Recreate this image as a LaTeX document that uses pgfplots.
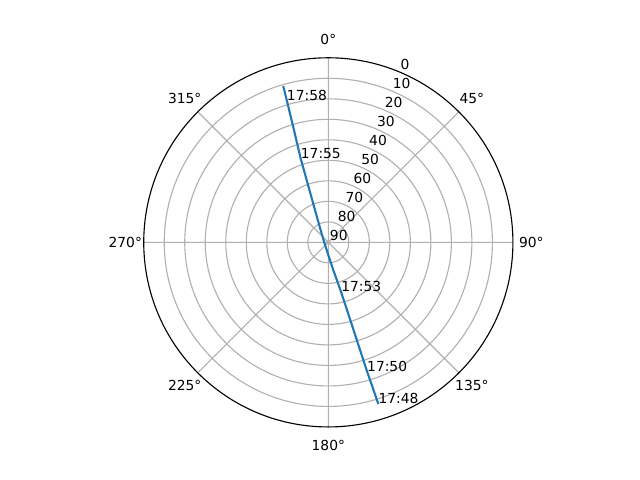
\documentclass[border=0pt]{standalone}
\usepackage{fontspec}
\setmainfont{DejaVu Sans}
\usepackage{pgfplots}
\usepackage{pgfplotstable}
\pgfplotsset{compat=1.18}
\usepgfplotslibrary{polar}
\definecolor{tabblue}{HTML}{1F77B4}
\definecolor{gridgray}{HTML}{B0B0B0}

% satellite track: azimuth (deg, clockwise from north), elevation (deg)
\pgfplotstableread{
az     el
162.8  7.5
163.3  24.5
164.2  50.6
165.6  65.1
169.8  76.3
180.0  83.8
270.0  88.0
329.9  82.0
337.6  73.0
341.75 46.9
343.0  32.7
343.7  17.7
343.9  10.7
}\track

\begin{document}
\fontsize{10}{12}\selectfont
\begin{tikzpicture}
\path[use as bounding box] (-236.4bp,-171.1bp) rectangle (224.4bp,174.5bp);
\begin{polaraxis}[
  at={(0,0)}, anchor=center,
  width=265.8bp, height=265.8bp, scale only axis,
  ymin=0, ymax=90,
  xtick={0,45,...,315}, xticklabels={},
  ytick={10,20,...,80}, yticklabels={},
  grid=major,
  major grid style={gridgray, line width=0.8bp},
  x axis line style={black, line width=0.8bp},
  y axis line style={draw=none},
  major tick length=0pt,
  clip=false,
]
\addplot[tabblue, line width=1.5bp, no markers]
  table[x expr={90-\thisrow{az}}, y expr={90-\thisrow{el}}] {\track};

% azimuth labels
\node[anchor=center] at (axis cs:90,99) {0°};
\node[anchor=center] at (axis cs:45,99) {45°};
\node[anchor=center] at (axis cs:0,99) {90°};
\node[anchor=center] at (axis cs:-45,99) {135°};
\node[anchor=center] at (axis cs:-90,99) {180°};
\node[anchor=center] at (axis cs:-135,99) {225°};
\node[anchor=center] at (axis cs:180,99) {270°};
\node[anchor=center] at (axis cs:135,99) {315°};

% elevation labels
\node[anchor=south west, inner sep=1bp] at (axis cs:67.5,90) {0};
\node[anchor=south west, inner sep=1bp] at (axis cs:67.5,80) {10};
\node[anchor=south west, inner sep=1bp] at (axis cs:67.5,70) {20};
\node[anchor=south west, inner sep=1bp] at (axis cs:67.5,60) {30};
\node[anchor=south west, inner sep=1bp] at (axis cs:67.5,50) {40};
\node[anchor=south west, inner sep=1bp] at (axis cs:67.5,40) {50};
\node[anchor=south west, inner sep=1bp] at (axis cs:67.5,30) {60};
\node[anchor=south west, inner sep=1bp] at (axis cs:67.5,20) {70};
\node[anchor=south west, inner sep=1bp] at (axis cs:67.5,10) {80};
\node[anchor=south west, inner sep=1bp] at (axis cs:67.5,0) {90};

% time annotations
\node[anchor=base west, inner sep=0pt] at (axis cs:287.2,82.5) {17:48};
\node[anchor=base west, inner sep=0pt] at (axis cs:286.7,65.5) {17:50};
\node[anchor=base west, inner sep=0pt] at (axis cs:284.4,24.9) {17:53};
\node[anchor=base west, inner sep=0pt] at (axis cs:108.25,43.1) {17:55};
\node[anchor=base west, inner sep=0pt] at (axis cs:106.3,72.3) {17:58};
\end{polaraxis}
\end{tikzpicture}
\end{document}
